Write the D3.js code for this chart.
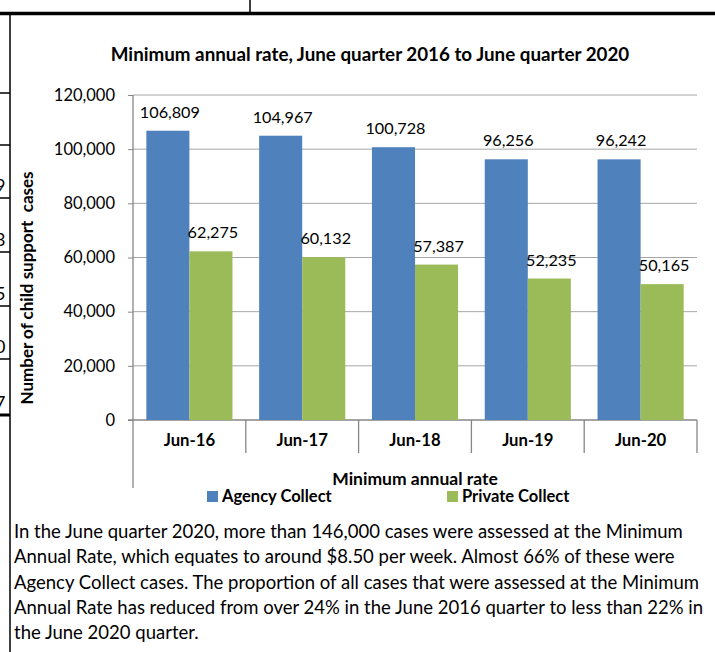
<!DOCTYPE html>
<html>
<head>
<meta charset="utf-8">
<script src="https://cdn.jsdelivr.net/npm/d3@7"></script>
<style>
  body { margin: 0; background: #fff; }
  svg { display: block; font-family: Lato, "Open Sans", sans-serif; }
</style>
</head>
<body>
<svg></svg>
<script>
var categories = ["Jun-16", "Jun-17", "Jun-18", "Jun-19", "Jun-20"];
var seriesNames = ["Agency Collect", "Private Collect"];
var agency = [106809, 104967, 100728, 96256, 96242];
var privateCol = [62275, 60132, 57387, 52235, 50165];
var yTicks = [0, 20000, 40000, 60000, 80000, 100000, 120000];
var sideDigits = ["9", "3", "5", "0", "7"];
var paragraph = [
  "In the June quarter 2020, more than 146,000 cases were assessed at the Minimum",
  "Annual Rate, which equates to around $8.50 per week. Almost 66% of these were",
  "Agency Collect cases. The proportion of all cases that were assessed at the Minimum",
  "Annual Rate has reduced from over 24% in the June 2016 quarter to less than 22% in",
  "the June 2020 quarter."
];

var colors = ["#4f81bd", "#9bbb59"];
var width = 715, height = 652;

var data = categories.map(function(c, i) {
  return { cat: c, values: [agency[i], privateCol[i]] };
});

var svg = d3.select("svg")
  .attr("width", width)
  .attr("height", height);

// table borders around the chart
svg.append("line").attr("x1", 0).attr("x2", width).attr("y1", 13.5).attr("y2", 13.5)
  .attr("stroke", "#000").attr("stroke-width", 3.5);
svg.append("line").attr("x1", 250).attr("x2", 250).attr("y1", 0).attr("y2", 12)
  .attr("stroke", "#000").attr("stroke-width", 1.5);
svg.append("line").attr("x1", 10).attr("x2", 10).attr("y1", 13).attr("y2", height)
  .attr("stroke", "#000").attr("stroke-width", 1.5);
var rowLines = [93, 145, 198, 252, 306, 359, 415];
svg.selectAll(".rowline")
  .data(rowLines)
  .enter()
  .append("line")
  .attr("x1", 0).attr("x2", 10)
  .attr("y1", function(d){ return d; })
  .attr("y2", function(d){ return d; })
  .attr("stroke", "#000")
  .attr("stroke-width", function(d, i){ return i == rowLines.length - 1 ? 3 : 1.5; });
// right ends of the neighbouring table column, clipped at the page edge
svg.selectAll(".digit")
  .data(sideDigits)
  .enter()
  .append("text")
  .text(function(d){ return d; })
  .attr("x", -5)
  .attr("y", function(d, i){ return rowLines[i + 2] - 6; })
  .attr("font-size", 18);

// scales
var y = d3.scaleLinear().domain([0, 120000]).range([420, 95]);
var x = d3.scaleBand().domain(categories).range([133, 697]).paddingInner(0).paddingOuter(0);
var xs = d3.scaleBand().domain(seriesNames).range([0, x.bandwidth()]).paddingInner(0).paddingOuter(0.31);

// gridlines
svg.append("g")
  .selectAll("line")
  .data(yTicks.slice(1))
  .enter()
  .append("line")
  .attr("x1", 133).attr("x2", 697)
  .attr("y1", function(d){ return y(d); })
  .attr("y2", function(d){ return y(d); })
  .attr("stroke", "#a6a6a6")
  .attr("stroke-width", 1);

// y axis
var yAxis = svg.append("g")
  .attr("transform", "translate(133,0)")
  .call(d3.axisLeft(y).tickValues(yTicks).tickSize(5).tickPadding(13)
    .tickFormat(d3.format(",")));
yAxis.select(".domain").remove();
yAxis.selectAll("line").attr("stroke", "#868686");
yAxis.selectAll("text")
  .attr("font-family", "Lato, sans-serif")
  .attr("font-size", 16.5)
  .attr("fill", "#000");
svg.append("line").attr("x1", 133).attr("x2", 133).attr("y1", 95).attr("y2", 488)
  .attr("stroke", "#868686").attr("stroke-width", 1.3);

// x axis with category dividers
svg.append("line").attr("x1", 128).attr("x2", 697).attr("y1", 420).attr("y2", 420)
  .attr("stroke", "#868686").attr("stroke-width", 1.3);
svg.selectAll(".divider")
  .data(categories)
  .enter()
  .append("line")
  .attr("x1", function(d){ return x(d) + x.bandwidth(); })
  .attr("x2", function(d){ return x(d) + x.bandwidth(); })
  .attr("y1", 420).attr("y2", 453)
  .attr("stroke", "#868686").attr("stroke-width", 1.3);
svg.selectAll(".catlabel")
  .data(categories)
  .enter()
  .append("text")
  .text(function(d){ return d; })
  .attr("x", function(d){ return x(d) + x.bandwidth() / 2; })
  .attr("y", 446)
  .attr("text-anchor", "middle")
  .attr("font-size", 16.7)
  .attr("font-weight", "bold");

// bars
var groups = svg.selectAll(".grp")
  .data(data)
  .enter()
  .append("g")
  .attr("transform", function(d){ return "translate(" + x(d.cat) + ",0)"; });

groups.selectAll("rect")
  .data(function(d){ return d.values.map(function(v, i){ return { name: seriesNames[i], v: v, i: i }; }); })
  .enter()
  .append("rect")
  .attr("x", function(d){ return xs(d.name); })
  .attr("y", function(d){ return y(d.v); })
  .attr("width", xs.bandwidth())
  .attr("height", function(d){ return y(0) - y(d.v); })
  .attr("fill", function(d){ return colors[d.i]; });

groups.selectAll(".val")
  .data(function(d){ return d.values.map(function(v, i){ return { name: seriesNames[i], v: v, i: i }; }); })
  .enter()
  .append("text")
  .text(function(d){ return d3.format(",")(d.v); })
  .attr("x", function(d){ return xs(d.name) + xs.bandwidth() / 2 + 2; })
  .attr("y", function(d){ return y(d.v) - 13; })
  .attr("text-anchor", "middle")
  .attr("font-size", 16.2);

// titles
svg.append("text")
  .text("Minimum annual rate, June quarter 2016 to June quarter 2020")
  .attr("x", 370).attr("y", 61)
  .attr("text-anchor", "middle")
  .attr("font-size", 18.8)
  .attr("font-weight", "bold");

svg.append("text")
  .text("Number of child support  cases")
  .attr("transform", "translate(33,288) rotate(-90)")
  .attr("text-anchor", "middle")
  .attr("font-size", 17)
  .attr("font-weight", "bold")
  .style("white-space", "pre");

svg.append("text")
  .text("Minimum annual rate")
  .attr("x", 415).attr("y", 485)
  .attr("text-anchor", "middle")
  .attr("font-size", 17.5)
  .attr("font-weight", "bold");

// legend
var legendX = [207, 447];
var legend = svg.selectAll(".legend")
  .data(seriesNames)
  .enter()
  .append("g")
  .attr("transform", function(d, i){ return "translate(" + legendX[i] + ",491)"; });
legend.append("rect")
  .attr("width", 11).attr("height", 11)
  .attr("fill", function(d, i){ return colors[i]; });
legend.append("text")
  .text(function(d){ return d; })
  .attr("x", 15).attr("y", 11)
  .attr("font-size", 16.5)
  .attr("font-weight", "bold");

// paragraph below the chart
svg.selectAll(".para")
  .data(paragraph)
  .enter()
  .append("text")
  .text(function(d){ return d; })
  .attr("x", 14)
  .attr("y", function(d, i){ return 538 + i * 25.3; })
  .attr("font-size", 18.5);
</script>
</body>
</html>
